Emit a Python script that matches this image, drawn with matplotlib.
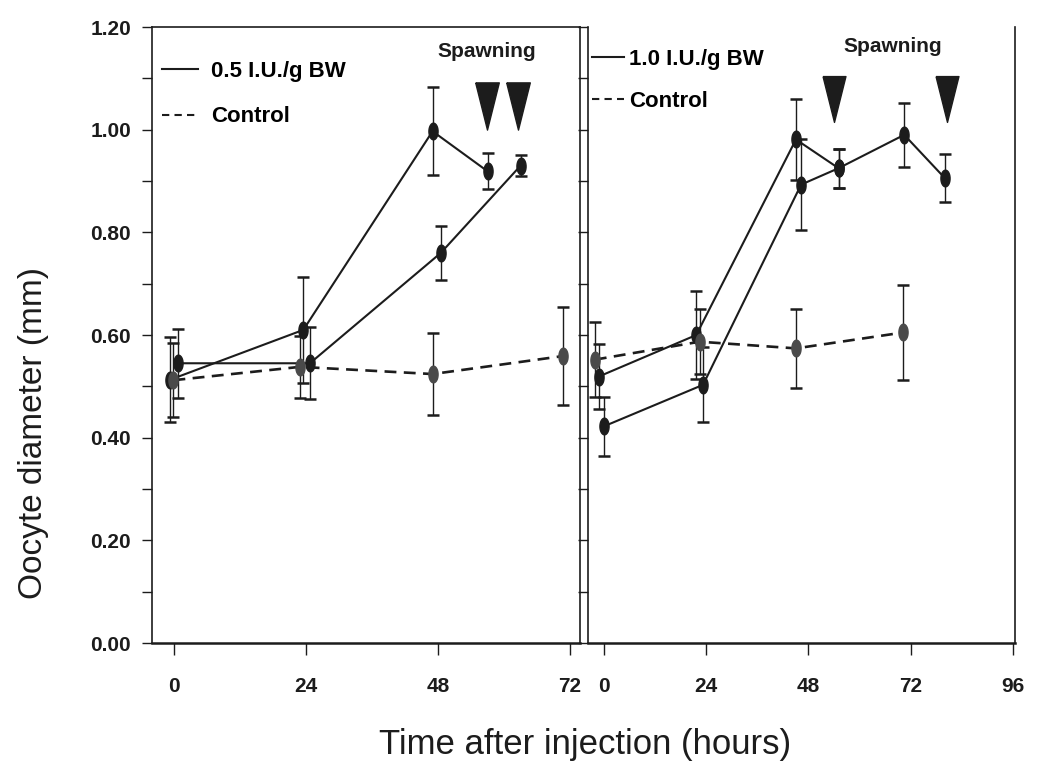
import numpy as np
import matplotlib
matplotlib.use("Agg")
import matplotlib.pyplot as plt
from matplotlib.lines import Line2D
from matplotlib.ticker import MultipleLocator, FormatStrFormatter

plt.rcParams['font.family'] = ['Liberation Sans', 'DejaVu Sans']

# ---- data (hours after injection, oocyte diameter mm) ----
# left panel: 0.5 I.U./g BW
left_a_h = [0.8, 24.7, 48.5, 63.0]
left_a_y = [0.545, 0.545, 0.760, 0.930]
left_a_err = [0.067, 0.070, 0.053, 0.021]

left_b_h = [-0.7, 23.5, 47.0, 57.0]
left_b_y = [0.513, 0.610, 0.997, 0.919]
left_b_err = [0.083, 0.103, 0.086, 0.035]

left_c_h = [-0.1, 22.9, 47.0, 70.7]
left_c_y = [0.512, 0.538, 0.524, 0.559]
left_c_err = [0.072, 0.060, 0.079, 0.095]

left_spawn_h = [56.9, 62.5]

# right panel: 1.0 I.U./g BW
right_a_h = [-1.2, 21.7, 45.1, 55.1]
right_a_y = [0.519, 0.600, 0.981, 0.925]
right_a_err = [0.063, 0.085, 0.078, 0.038]

right_b_h = [0.0, 23.3, 46.3, 55.1, 70.5, 80.0]
right_b_y = [0.422, 0.503, 0.893, 0.925, 0.990, 0.906]
right_b_err = [0.057, 0.073, 0.088, 0.038, 0.062, 0.046]

right_c_h = [-2.1, 22.5, 45.1, 70.3]
right_c_y = [0.552, 0.587, 0.574, 0.605]
right_c_err = [0.073, 0.063, 0.077, 0.092]

right_spawn_h = [54.1, 80.6]

left_ticks = [0, 24, 48, 72]
right_ticks = [0, 24, 48, 72, 96]

# ---- styling ----
ink = '#1c1c1c'
grey = '#4a4a4a'
t = np.linspace(0, 2 * np.pi, 40)
ellipse = np.column_stack([0.55 * np.cos(t), np.sin(t)])
arrow = [(-0.5, 1.0), (0.5, 1.0), (0.0, -1.0), (-0.5, 1.0)]

fig = plt.figure(figsize=(10.37, 7.75), dpi=100)
ax1 = fig.add_axes([0.1466, 0.1703, 0.4127, 0.7948])
ax2 = fig.add_axes([0.5670, 0.1703, 0.4118, 0.7948])


def draw_series(ax, h, y, err, color):
    ax.errorbar(h, y, yerr=err, color=ink, lw=1.5,
                marker=ellipse, ms=12, mfc=color, mec=color,
                ecolor=ink, elinewidth=1.0, capsize=4, capthick=1.8)


def draw_control(ax, h, y, err):
    ax.errorbar(h, y, yerr=err, color=ink, lw=1.9, ls=(0, (4.5, 2.8)),
                marker=ellipse, ms=12, mfc=grey, mec=grey,
                ecolor=ink, elinewidth=1.0, capsize=4, capthick=1.8)


draw_series(ax1, left_a_h, left_a_y, left_a_err, ink)
draw_series(ax1, left_b_h, left_b_y, left_b_err, ink)
draw_control(ax1, left_c_h, left_c_y, left_c_err)

draw_series(ax2, right_a_h, right_a_y, right_a_err, ink)
draw_series(ax2, right_b_h, right_b_y, right_b_err, ink)
draw_control(ax2, right_c_h, right_c_y, right_c_err)

# spawning arrowheads
ax1.plot(left_spawn_h, [1.046] * len(left_spawn_h), ls='none',
         marker=arrow, ms=34, color=ink)
ax2.plot(right_spawn_h, [1.06] * len(right_spawn_h), ls='none',
         marker=arrow, ms=33, color=ink)
ax1.text(56.9, 1.152, 'Spawning', ha='center', va='center',
         fontsize=15, fontweight='bold', color=ink)
ax2.text(67.7, 1.162, 'Spawning', ha='center', va='center',
         fontsize=15, fontweight='bold', color=ink)

# legends
h_solid = Line2D([], [], color=ink, lw=1.5)
h_dash = Line2D([], [], color=ink, lw=1.5, ls=(0, (3.5, 2.5)))
ax1.legend([h_solid, h_dash], ['0.5 I.U./g BW', 'Control'], loc='upper left',
           bbox_to_anchor=(0.024, 0.945), frameon=False,
           handlelength=1.6, handletextpad=0.6, labelspacing=1.1,
           borderaxespad=0, borderpad=0, prop={'weight': 'bold', 'size': 16})
ax2.legend([h_solid, h_dash], ['1.0 I.U./g BW', 'Control'], loc='upper left',
           bbox_to_anchor=(0.010, 0.965), frameon=False,
           handlelength=1.45, handletextpad=0.2, labelspacing=0.95,
           borderaxespad=0, borderpad=0, prop={'weight': 'bold', 'size': 16})

# axes
ax1.set_xlim(-4.0, 73.8)
ax2.set_xlim(-3.7, 96.5)
for ax in (ax1, ax2):
    ax.set_ylim(0, 1.2)
    ax.yaxis.set_minor_locator(MultipleLocator(0.1))
    ax.tick_params(axis='x', direction='out', length=8.5, width=1.0,
                   pad=16, labelsize=15, colors=ink)
    ax.tick_params(axis='y', which='both', direction='out', length=7,
                   width=1.0, pad=8, labelsize=15, colors=ink)
    for s in ax.spines.values():
        s.set_color(ink)
        s.set_linewidth(1.2)
    ax.spines['bottom'].set_linewidth(1.8)

ax1.set_xticks(left_ticks)
ax1.set_xticklabels([str(v) for v in left_ticks], fontweight='bold')
ax2.set_xticks(right_ticks)
ax2.set_xticklabels([str(v) for v in right_ticks], fontweight='bold')

ax1.yaxis.set_major_locator(MultipleLocator(0.2))
ax1.yaxis.set_major_formatter(FormatStrFormatter('%.2f'))
for lab in ax1.get_yticklabels():
    lab.set_fontweight('bold')

ax2.yaxis.set_major_locator(MultipleLocator(0.1))
ax2.tick_params(axis='y', which='both', labelleft=False)
ax2.spines['top'].set_visible(False)

fig.text(0.032, 0.441, 'Oocyte diameter (mm)', rotation=90,
         ha='center', va='center', fontsize=24, color=ink)
fig.text(0.564, 0.039, 'Time after injection (hours)',
         ha='center', va='center', fontsize=25, color=ink)

fig.savefig('out.png', dpi=100)
